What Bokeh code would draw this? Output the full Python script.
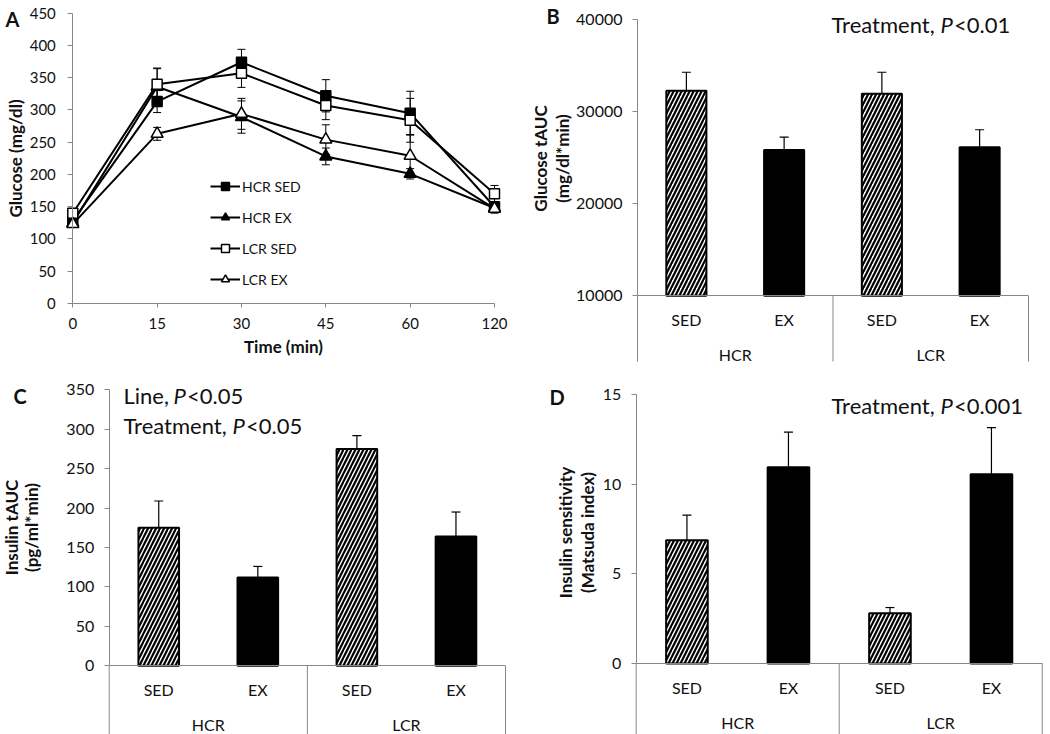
import numpy as np
from bokeh.plotting import figure
from bokeh.models import (ColumnDataSource, Range1d, FixedTicker, Whisker, TeeHead, Label,
                          LinearAxis)
from bokeh.layouts import row, column
from bokeh.embed import file_html
from bokeh.resources import INLINE

FONT = "Lato"
GRAY = "#878787"
TXT = "#111111"

# ---------------- data: panel A (glucose curve) ----------------
times = ["0", "15", "30", "45", "60", "120"]
series_names = ["HCR SED", "HCR EX", "LCR SED", "LCR EX"]
hcr_sed = [128, 313, 374, 322, 295, 150]
hcr_sed_err = [5, 17, 20, 25, 34, 6]
hcr_ex = [125, 336, 289, 228, 201, 148]
hcr_ex_err = [5, 28, 25, 13, 8, 5]
lcr_sed = [140, 340, 357, 307, 284, 170]
lcr_sed_err = [5, 25, 22, 22, 34, 13]
lcr_ex = [123, 263, 294, 254, 229, 147]
lcr_ex_err = [5, 10, 24, 23, 33, 7]
a_ticks = [0, 50, 100, 150, 200, 250, 300, 350, 400, 450]

# ---------------- data: panels B-D (bars) ----------------
lines_ = ["HCR", "LCR"]
treat = ["SED", "EX"]
glucose_tauc = [32300, 25850, 31950, 26150]
glucose_tauc_err = [2000, 1400, 2350, 1900]
insulin_tauc = [175, 112, 275, 164]
insulin_tauc_err = [34, 14, 17, 31]
matsuda = [6.87, 10.95, 2.8, 10.55]
matsuda_err = [1.4, 1.95, 0.32, 2.6]
b_ticks = [10000, 20000, 30000, 40000]
c_ticks = [0, 50, 100, 150, 200, 250, 300, 350]
d_ticks = [0, 5, 10, 15]

b_title = ["Glucose tAUC", "(mg/dl*min)"]
c_title = ["Insulin tAUC", "(pg/ml*min)"]
d_title = ["Insulin sensitivity", "(Matsuda index)"]

stat_b = ["Treatment,", "P", "<0.01"]
stat_c1 = ["Line,", "P", "<0.05"]
stat_c2 = ["Treatment,", "P", "<0.05"]
stat_d = ["Treatment,", "P", "<0.001"]
styles = ["normal", "italic", "normal"]


# ---------------- helpers ----------------
def xr(v0, p0, v1, p1, W):
    k = (p1 - p0) / (v1 - v0)
    s = v0 - p0 / k
    return Range1d(s, s + W / k)


def yr(v0, p0, v1, p1, H):
    k = (p0 - p1) / (v1 - v0)
    e = v0 + p0 / k
    return Range1d(e - H / k, e)


def label(p, x, y, text, size, style="normal", align="left", baseline="alphabetic", angle=0):
    p.add_layout(Label(x=x, y=y, x_units="screen", y_units="screen", text=text,
                       text_font=FONT, text_font_size=size, text_font_style=style,
                       text_align=align, text_baseline=baseline, text_color=TXT,
                       angle=angle))


def stat(p, x0, y, pieces, offs):
    for dx, t, s in zip(offs, pieces, styles):
        label(p, x0 + dx, y, t, "22px", s)


def ytitle(p, xs, y, lines):
    for x, t in zip(xs, lines):
        label(p, x, y, t, "17px", "bold", "center", "middle", np.pi / 2)


def style_y(ax, size, standoff):
    ax.axis_line_color = GRAY
    ax.major_tick_line_color = GRAY
    ax.major_tick_in = 0
    ax.major_tick_out = 5
    ax.minor_tick_line_color = None
    ax.major_label_text_font = FONT
    ax.major_label_text_font_size = size
    ax.major_label_text_color = TXT
    ax.major_label_standoff = standoff
    ax.axis_label_text_font = FONT
    ax.axis_label_text_font_style = "bold"
    ax.axis_label_text_font_size = "17px"
    ax.axis_label_text_color = TXT


def base_fig(W, H, x_range, y_range):
    p = figure(width=W, height=H, x_range=x_range, y_range=y_range,
               output_backend="svg", toolbar_location=None,
               min_border_left=0, min_border_right=0, min_border_top=0, min_border_bottom=0)
    p.outline_line_color = None
    p.grid.grid_line_color = None
    return p


# ---------------- panel A ----------------
xa = np.arange(len(times))
last = len(times) - 1
pA = base_fig(520, 370, xr(0, 72.3, last, 494, 520), yr(0, 303, 450, 12.7, 370))
specs = [
    (series_names[0], hcr_sed, hcr_sed_err, "square", "black", 10),
    (series_names[1], hcr_ex, hcr_ex_err, "triangle", "black", 12),
    (series_names[2], lcr_sed, lcr_sed_err, "square", "white", 10),
    (series_names[3], lcr_ex, lcr_ex_err, "triangle", "white", 12),
]
for name, vals, errs, mk, fill, sz in specs:
    v = np.array(vals, dtype=float)
    e = np.array(errs, dtype=float)
    src = ColumnDataSource(dict(x=xa, y=v, lo=v - e, hi=v + e))
    pA.add_layout(Whisker(source=src, base="x", lower="lo", upper="hi",
                          line_color="black", line_width=1,
                          upper_head=TeeHead(size=8, line_color="black", line_width=1),
                          lower_head=TeeHead(size=8, line_color="black", line_width=1)))
    pA.line("x", "y", source=src, line_color="black", line_width=2, legend_label=name)
    pA.scatter("x", "y", source=src, marker=mk, size=sz, fill_color=fill,
               line_color="black", line_width=1.5, legend_label=name)

yax = pA.yaxis[0]
style_y(yax, "15px", 12)
yax.ticker = FixedTicker(ticks=a_ticks)
yax.fixed_location = 0
yax.bounds = (a_ticks[0], a_ticks[-1])
yax.axis_label = "Glucose (mg/dl)"
yax.axis_label_standoff = 0

xax = pA.xaxis[0]
xax.fixed_location = 0
xax.ticker = FixedTicker(ticks=[int(i) for i in xa])
xax.major_label_overrides = {int(i): t for i, t in zip(xa, times)}
xax.bounds = (0, last)
xax.axis_line_color = GRAY
xax.major_tick_line_color = GRAY
xax.major_tick_in = 0
xax.major_tick_out = 4
xax.minor_tick_line_color = None
xax.major_label_text_font = FONT
xax.major_label_text_font_size = "15px"
xax.major_label_text_color = TXT
xax.major_label_standoff = 10
xax.axis_label = "Time (min)"
xax.axis_label_standoff = 4
xax.axis_label_text_font = FONT
xax.axis_label_text_font_style = "bold"
xax.axis_label_text_font_size = "17px"
xax.axis_label_text_color = TXT

lg = pA.legend[0]
lg.location = (210, 81)
lg.padding = 0
lg.margin = 0
lg.spacing = 11
lg.glyph_width = 30
lg.glyph_height = 20
lg.label_height = 20
lg.label_standoff = 2
lg.border_line_color = None
lg.background_fill_alpha = 0
lg.label_text_font = FONT
lg.label_text_font_size = "14px"
lg.label_text_color = TXT

label(pA, 5, 352, "A", "20px", "bold")


# ---------------- bar panels ----------------
def bar_panel(W, H, x_px, y_px, vals, errs, ymin, ymax, ticks, sep_bottom):
    n = len(treat)
    factors = [(l, t) for l in lines_ for t in treat]
    nf = len(factors)
    p = base_fig(W, H, xr(0, x_px[0], 2 * nf, x_px[1], W),
                 yr(ymin, y_px[0], ymax, y_px[1], H))
    centers = [2 * i + 1 for i in range(nf)]
    src = ColumnDataSource(dict(
        x=centers, top=vals, up=[v + e for v, e in zip(vals, errs)],
        fill=["white" if t == "SED" else "black" for _, t in factors],
        hatch=["/" if t == "SED" else " " for _, t in factors]))
    p.add_layout(Whisker(source=src, base="x", lower="top", upper="up",
                         line_color="black", line_width=1.2, lower_head=None,
                         upper_head=TeeHead(size=9, line_color="black", line_width=1.2)))
    p.vbar(x="x", top="top", bottom=ymin, width=0.82, source=src, fill_color="fill",
           line_color="black", line_width=2, hatch_pattern="hatch", hatch_color="black",
           hatch_weight=2.2, hatch_scale=8)
    bounds_x = [2 * n * k for k in range(len(lines_) + 1)]
    sep = ColumnDataSource(dict(x=bounds_x, lo=[sep_bottom] * len(bounds_x),
                                hi=[ymin] * len(bounds_x)))
    p.add_layout(Whisker(source=sep, base="x", lower="lo", upper="hi", lower_units="screen",
                         line_color=GRAY, line_width=1, lower_head=None, upper_head=None))
    ya = p.yaxis[0]
    style_y(ya, "16px", 10)
    ya.fixed_location = 0
    ya.bounds = (ymin, ymax)
    ya.ticker = FixedTicker(ticks=ticks)

    ax1 = p.xaxis[0]
    ax2 = LinearAxis()
    p.add_layout(ax2, "below")
    for ax, tk, labs, so in ((ax1, centers, [t for _, t in factors], 14),
                             (ax2, [2 * n * k + n for k in range(len(lines_))], lines_, 49)):
        ax.fixed_location = ymin
        ax.ticker = FixedTicker(ticks=tk)
        ax.major_label_overrides = {int(t): s for t, s in zip(tk, labs)}
        ax.major_tick_line_color = None
        ax.major_tick_in = 0
        ax.major_tick_out = 0
        ax.minor_tick_line_color = None
        ax.major_label_standoff = so
        ax.major_label_text_font = FONT
        ax.major_label_text_font_size = "16px"
        ax.major_label_text_color = TXT
    ax1.axis_line_color = GRAY
    ax1.bounds = (0, 2 * nf)
    ax2.axis_line_color = None
    return p


pB = bar_panel(530, 370, (117, 508), (295.3, 19.3), glucose_tauc, glucose_tauc_err,
               10000, 40000, b_ticks, 9)
ytitle(pB, [20, 42], 212, b_title)
stat(pB, 311, 346.5, stat_b, [0, 109, 122.5])
label(pB, 26, 355, "B", "20px", "bold")

pC = bar_panel(520, 364, (108.7, 505), (295.3, 19.3), insulin_tauc, insulin_tauc_err,
               0, 350, c_ticks, 0)
ytitle(pC, [11, 31], 207, c_title)
stat(pC, 123, 339.3, stat_c1, [0, 50, 63.5])
stat(pC, 123, 309.3, stat_c2, [0, 109, 122.5])
label(pC, 13, 339, "C", "20px", "bold")

pD = bar_panel(530, 364, (115.7, 521.7), (293, 24), matsuda, matsuda_err,
               0, 15, d_ticks, 0)
ytitle(pD, [45, 67], 202, d_title)
stat(pD, 311, 329, stat_d, [0, 109, 122.5])
label(pD, 29, 337.3, "D", "20px", "bold")

layout = column(row(pA, pB), row(pC, pD))
open("out.html", "w").write(file_html(layout, INLINE))
